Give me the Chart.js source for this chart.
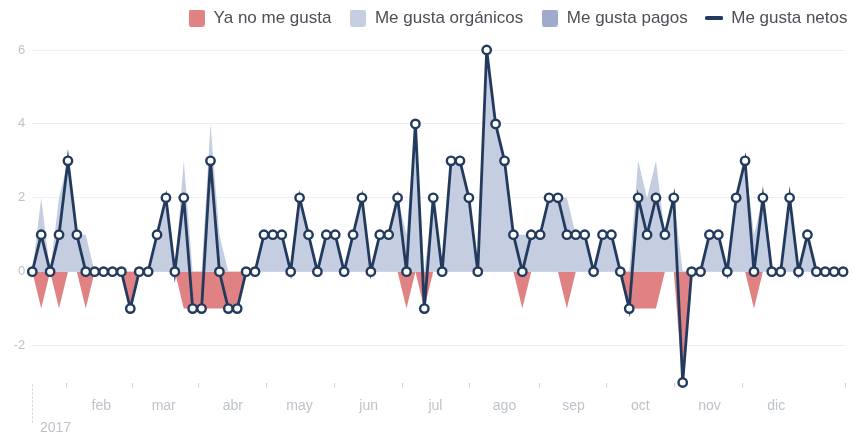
<!DOCTYPE html>
<html>
<head>
<meta charset="utf-8">
<script src="https://cdn.jsdelivr.net/npm/chart.js@4/dist/chart.umd.min.js"></script>
<style>
  html, body { margin: 0; padding: 0; background: #ffffff; }
  #wrap { width: 854px; height: 437px; }
</style>
</head>
<body>
<div id="wrap"><canvas id="c" width="854" height="437"></canvas></div>
<script>
// ---------- data ----------
const startDate = '2017-01-01';
const stepDays = 4;
const yearLabel = '2017';
const monthLabels = ['ene', 'feb', 'mar', 'abr', 'may', 'jun', 'jul', 'ago', 'sep', 'oct', 'nov', 'dic'];
const seriesNames = ['Ya no me gusta', 'Me gusta orgánicos', 'Me gusta pagos', 'Me gusta netos'];
const yTickValues = [-2, 0, 2, 4, 6];

const unlikes = [
  0, -1, 0, -1, 0, 0, -1, 0, 0, 0,
  0, -1, 0, 0, 0, 0, 0, -1, -1, -1,
  -1, -1, -1, -1, 0, 0, 0, 0, 0, 0,
  0, 0, 0, 0, 0, 0, 0, 0, 0, 0,
  0, 0, -1, 0, -1, 0, 0, 0, 0, 0,
  0, 0, 0, 0, 0, -1, 0, 0, 0, 0,
  -1, 0, 0, 0, 0, 0, 0, -1, -1, -1,
  -1, 0, 0, -3, 0, 0, 0, 0, 0, 0,
  0, -1, 0, 0, 0, 0, 0, 0, 0, 0,
  0, 0
];
const organicLikes = [
  0, 2, 0, 2, 3, 1, 1, 0, 0, 0,
  0, 0, 0, 0, 1, 2, 0, 3, 0, 0,
  4, 1, 0, 0, 0, 0, 1, 1, 1, 0,
  2, 1, 0, 1, 1, 0, 1, 2, 0, 1,
  1, 2, 1, 4, 0, 2, 0, 3, 3, 2,
  0, 6, 4, 3, 1, 1, 1, 1, 2, 2,
  2, 1, 1, 0, 1, 1, 0, 0, 3, 2,
  3, 1, 2, 0, 0, 0, 1, 1, 0, 2,
  3, 1, 2, 0, 0, 2, 0, 1, 0, 0,
  0, 0
];
const paidLikes = [
  0, 0, 0, 0, 0, 0, 0, 0, 0, 0,
  0, 0, 0, 0, 0, 0, 0, 0, 0, 0,
  0, 0, 0, 0, 0, 0, 0, 0, 0, 0,
  0, 0, 0, 0, 0, 0, 0, 0, 0, 0,
  0, 0, 0, 0, 0, 0, 0, 0, 0, 0,
  0, 0, 0, 0, 0, 0, 0, 0, 0, 0,
  0, 0, 0, 0, 0, 0, 0, 0, 0, 0,
  0, 0, 0, 0, 0, 0, 0, 0, 0, 0,
  0, 0, 0, 0, 0, 0, 0, 0, 0, 0,
  0, 0
];
const netLikes = [
  0, 1, 0, 1, 3, 1, 0, 0, 0, 0,
  0, -1, 0, 0, 1, 2, 0, 2, -1, -1,
  3, 0, -1, -1, 0, 0, 1, 1, 1, 0,
  2, 1, 0, 1, 1, 0, 1, 2, 0, 1,
  1, 2, 0, 4, -1, 2, 0, 3, 3, 2,
  0, 6, 4, 3, 1, 0, 1, 1, 2, 2,
  1, 1, 1, 0, 1, 1, 0, -1, 2, 1,
  2, 1, 2, -3, 0, 0, 1, 1, 0, 2,
  3, 0, 2, 0, 0, 2, 0, 1, 0, 0,
  0, 0
];

// ---------- calendar helpers (x axis in days from start) ----------
const DAY_MS = 86400000;
const t0 = Date.parse(startDate + 'T00:00:00Z');
const yr = new Date(t0).getUTCFullYear();
const monthStarts = monthLabels.map((_, m) => (Date.UTC(yr, m, 1) - t0) / DAY_MS);
const yearEnd = (Date.UTC(yr + 1, 0, 1) - t0) / DAY_MS;
const midMonthTicks = monthStarts.slice(0, 11).map((d, m) => (d + monthStarts[m + 1]) / 2).concat([yearEnd]);
const toPoints = arr => arr.map((v, i) => ({ x: i * stepDays, y: v }));

// ---------- styles ----------
const FONT = '"Liberation Sans", Arial, Helvetica, sans-serif';
const COLORS = {
  unlikes: '#e08283',
  organic: '#c5cde0',
  paid: '#9eabcb',
  net: '#233a5f',
  axisText: '#bec3c9',
  legendText: '#4b4f56',
  grid: '#eceef1',
  tick: '#cfd3d8'
};

function makeBox(color, w, h, r) {
  const c = document.createElement('canvas');
  c.width = w; c.height = h;
  const g = c.getContext('2d');
  g.fillStyle = color;
  g.beginPath();
  g.roundRect(0, 0, w, h, r);
  g.fill();
  return c;
}
function makeLine(color, w, h) {
  const c = document.createElement('canvas');
  c.width = w; c.height = h;
  const g = c.getContext('2d');
  g.fillStyle = color;
  g.beginPath();
  g.roundRect(0, 0, w, h, 1.5);
  g.fill();
  return c;
}
const legendMarks = [
  makeBox(COLORS.unlikes, 16, 17, 2.5),
  makeBox(COLORS.organic, 16, 17, 2.5),
  makeBox(COLORS.paid, 16, 17, 2.5),
  makeLine(COLORS.net, 18, 4)
];

Chart.defaults.font.family = FONT;

const legendSpacer = {
  id: 'legendSpacer',
  beforeInit(chart) {
    const fit = chart.legend.fit;
    chart.legend.fit = function () {
      fit.call(chart.legend);
      this.height = 58.5;
    };
  }
};

const yearMarker = {
  id: 'yearMarker',
  afterDraw(chart) {
    const ctx = chart.ctx;
    const xs = chart.scales.x;
    const px = Math.round(xs.getPixelForValue(0)) + 0.5;
    const b = chart.chartArea.bottom;
    ctx.save();
    ctx.strokeStyle = COLORS.tick;
    ctx.lineWidth = 1;
    ctx.setLineDash([2, 2]);
    ctx.beginPath();
    ctx.moveTo(px, b + 2);
    ctx.lineTo(px, b + 40);
    ctx.stroke();
    ctx.setLineDash([]);
    ctx.fillStyle = COLORS.axisText;
    ctx.font = '14px ' + FONT;
    ctx.textAlign = 'left';
    ctx.textBaseline = 'middle';
    ctx.fillText(yearLabel, px + 7.5, b + 45.5);
    ctx.restore();
  }
};

new Chart(document.getElementById('c'), {
  type: 'line',
  data: {
    datasets: [
      { label: seriesNames[0], data: toPoints(unlikes), fill: 'origin', backgroundColor: COLORS.unlikes,
        borderWidth: 0, pointRadius: 0, pointHoverRadius: 0, tension: 0, order: 4 },
      { label: seriesNames[1], data: toPoints(organicLikes), fill: 'origin', backgroundColor: COLORS.organic,
        borderWidth: 0, pointRadius: 0, pointHoverRadius: 0, tension: 0, order: 3 },
      { label: seriesNames[2], data: toPoints(paidLikes), fill: 'origin', backgroundColor: COLORS.paid,
        borderWidth: 0, pointRadius: 0, pointHoverRadius: 0, tension: 0, order: 2 },
      { label: seriesNames[3], data: toPoints(netLikes), fill: false, borderColor: COLORS.net,
        backgroundColor: COLORS.net, borderWidth: 2.8, tension: 0,
        pointRadius: 4.2, pointBorderWidth: 2.4, pointBackgroundColor: '#ffffff', pointBorderColor: COLORS.net,
        clip: false, order: 1 }
    ]
  },
  options: {
    responsive: false,
    animation: false,
    devicePixelRatio: 1,
    layout: { padding: { top: -8.5, right: -11.5, left: 0, bottom: 0 } },
    plugins: {
      tooltip: { enabled: false },
      legend: {
        position: 'top',
        align: 'end',
        labels: {
          usePointStyle: true,
          pointStyleWidth: 17,
          boxHeight: 17,
          padding: 18,
          color: COLORS.legendText,
          font: { size: 17, family: FONT },
          sort: (a, b) => a.datasetIndex - b.datasetIndex,
          generateLabels(chart) {
            const items = Chart.defaults.plugins.legend.labels.generateLabels(chart);
            items.forEach(it => { it.pointStyle = legendMarks[it.datasetIndex]; it.lineWidth = 0; });
            return items;
          }
        }
      }
    },
    scales: {
      x: {
        type: 'linear', position: 'bottom', weight: 0, min: 0, max: yearEnd,
        afterBuildTicks: s => { s.ticks = midMonthTicks.map(v => ({ value: v })); },
        ticks: { display: false },
        grid: { display: true, drawOnChartArea: false, drawTicks: true, tickLength: 5,
                color: COLORS.tick, tickColor: COLORS.tick, tickWidth: 1 },
        border: { display: false },
        afterFit: s => { s.height = 6; }
      },
      xMonths: {
        type: 'linear', position: 'bottom', weight: 1, min: 0, max: yearEnd,
        afterBuildTicks: s => { s.ticks = monthStarts.slice(1).map(v => ({ value: v })); },
        ticks: {
          autoSkip: false, maxRotation: 0, minRotation: 0, padding: 9,
          color: COLORS.axisText, font: { size: 14, family: FONT },
          callback: v => monthLabels[monthStarts.indexOf(v)]
        },
        grid: { display: false, drawTicks: false },
        border: { display: false },
        afterFit: s => { s.height = 48.5; }
      },
      y: {
        type: 'linear', position: 'left', min: -3, max: 6,
        afterBuildTicks: s => { s.ticks = yTickValues.map(v => ({ value: v })); },
        ticks: { color: COLORS.axisText, font: { size: 13, family: FONT }, padding: 7 },
        grid: { color: COLORS.grid, drawTicks: false, lineWidth: 1 },
        border: { display: false },
        afterFit: s => { s.width = 32.3; }
      },
      yRight: {
        type: 'linear', position: 'right', display: true,
        ticks: { display: false },
        grid: { display: false, drawTicks: false },
        border: { display: false },
        afterFit: s => { s.width = 20.2; }
      }
    }
  },
  plugins: [legendSpacer, yearMarker]
});
</script>
</body>
</html>
